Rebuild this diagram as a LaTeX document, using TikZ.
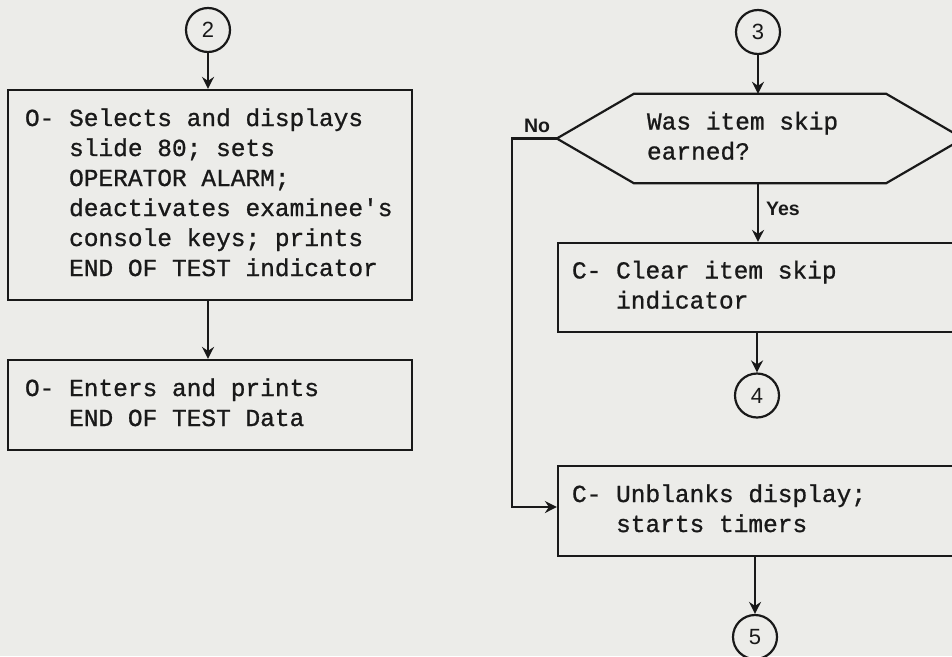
\documentclass[tikz,border=0pt]{standalone}
\usepackage{fontspec}
\usetikzlibrary{arrows.meta}
\newfontfamily\tw{Liberation Mono}[FakeBold=0.9]
\newfontfamily\lab{Liberation Sans}
\definecolor{paper}{RGB}{236,236,233}
\definecolor{ink}{RGB}{25,25,25}
\newcommand\ind{\phantom{0}}
\begin{document}
\begin{tikzpicture}[x=1pt,y=-1pt,color=ink,
  procbox/.style={draw=ink, line width=2.2pt, rectangle, inner ysep=0pt,
    font=\tw\fontsize{24.5}{30}\selectfont},
  decbox/.style={inner ysep=0pt, font=\tw\fontsize{24.5}{30}\selectfont},
  conn/.style={draw=ink, circle, line width=2.2pt, minimum size=44pt, inner sep=0pt,
    font=\lab\fontsize{22}{22}\selectfont},
  flow/.style={draw=ink, line width=2.2pt, -{Stealth[length=12pt,width=12pt,inset=4pt]}},
  plain/.style={draw=ink, line width=2.2pt},
  lbl/.style={font=\lab\bfseries\fontsize{19.5}{19.5}\selectfont, inner sep=0pt}
]
\useasboundingbox (0,0) rectangle (952,656);
\fill[paper] (0,0) rectangle (952,656);
\clip (0,0) rectangle (952,656);

% ---- left column ----
\node[conn] (c2) at (208,30) {2};
\node[procbox, minimum width=404pt, minimum height=210pt, inner xsep=17pt] (p1) at (210,195)
  {\makebox[370pt][l]{\begin{tabular}{@{}l@{}l@{}}O-\ind&Selects and displays\\
   &slide 80; sets\\
   &OPERATOR ALARM;\\
   &deactivates examinee\textquotesingle s\\
   &console keys; prints\\
   &END OF TEST indicator\end{tabular}}};
\node[procbox, minimum width=404pt, minimum height=90pt, inner xsep=17pt] (p2) at (210,405)
  {\makebox[370pt][l]{\begin{tabular}{@{}l@{}l@{}}O-\ind&Enters and prints\\
   &END OF TEST Data\end{tabular}}};

\draw[flow] (c2.south) -- (c2.south |- p1.north);
\draw[flow] (c2.south |- p1.south) -- (c2.south |- p2.north);

% ---- right column ----
\node[conn] (c3) at (758,32) {3};
\node[decbox, minimum width=252pt, minimum height=89pt, inner xsep=13pt] (dec) at (760,138.5)
  {\makebox[226pt][l]{\begin{tabular}{@{}l@{}}Was item skip\\earned?\end{tabular}}};
\coordinate (decL) at ([xshift=-77pt]dec.west);
\coordinate (decR) at ([xshift=77pt]dec.east);
\draw[plain, line join=miter] (dec.north west) -- (dec.north east) -- (decR) -- (dec.south east)
  -- (dec.south west) -- (decL) -- cycle;

\node[procbox, minimum width=400pt, minimum height=89pt, inner xsep=14pt] (p3) at (758,287.5)
  {\makebox[372pt][l]{\begin{tabular}{@{}l@{}l@{}}C-\ind&Clear item skip\\
   &indicator\end{tabular}}};
\node[conn] (c4) at (757,395.5) {4};
\node[procbox, minimum width=400pt, minimum height=90pt, inner xsep=14pt] (p4) at (758,511)
  {\makebox[372pt][l]{\begin{tabular}{@{}l@{}l@{}}C-\ind&Unblanks display;\\
   &starts timers\end{tabular}}};
\node[conn] (c5) at (755,637) {5};

\draw[flow] (c3.south) -- (c3.south |- dec.north);
\draw[flow] (c3 |- dec.south) -- node[lbl, pos=0.43, right=7pt] (yes) {Yes} (c3 |- p3.north);
\draw[flow] (c4 |- p3.south) -- (c4.north);
\draw[flow] (c5 |- p4.south) -- (c5.north);
\coordinate (nocorner) at ([xshift=-45pt]decL);
\draw[flow, line join=miter] (decL) -- (nocorner) |- ([yshift=4pt]p4.west);
\node[lbl] (no) at (537,126) {No};
\end{tikzpicture}
\end{document}
